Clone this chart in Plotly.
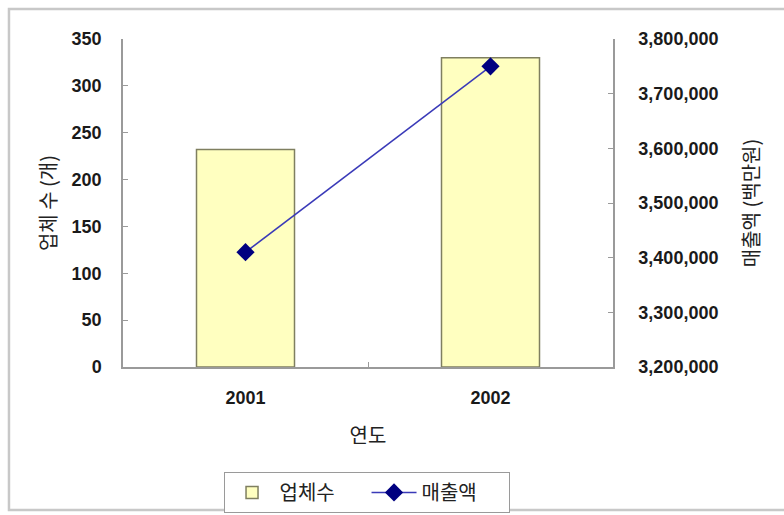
import plotly.graph_objects as go

# 연도별 업체 수와 매출액
years = ["2001", "2002"]
company_counts = [232, 330]            # 업체 수 (개)
sales = [3410000, 3750000]             # 매출액 (백만원)

left_ticks = [0, 50, 100, 150, 200, 250, 300, 350]
right_ticks = [3200000, 3300000, 3400000, 3500000, 3600000, 3700000, 3800000]

axis_grey = "#9a9a9a"
num_font = dict(family="Liberation Sans, Arial, sans-serif", size=18,
                color="#1a1a1a", weight="bold")
kr_font = dict(family="Noto Sans CJK KR, sans-serif", size=20, color="#222222")

fig = go.Figure()

fig.add_trace(go.Bar(
    x=years, y=company_counts, name="업체수",
    marker=dict(color="#FFFFC0", line=dict(color="#7f7f60", width=1.5)),
    width=0.4, yaxis="y",
))

fig.add_trace(go.Scatter(
    x=years, y=sales, name="매출액", mode="lines+markers",
    line=dict(color="#3a3ab8", width=1.5),
    marker=dict(symbol="diamond", size=14, color="#000080"),
    yaxis="y2",
))

fig.update_layout(
    width=784, height=515,
    margin=dict(l=123, r=171, t=39, b=148, autoexpand=False),
    paper_bgcolor="white", plot_bgcolor="white",
    showlegend=True,
    legend=dict(
        orientation="h", x=0.497, xanchor="center", y=-0.32, yanchor="top",
        bordercolor="#9a9a9a", borderwidth=1, font=kr_font,
        itemwidth=45, traceorder="normal", entrywidth=82,
    ),
    xaxis=dict(
        type="category", showline=True, linecolor=axis_grey, linewidth=1.5,
        ticks="inside", tickson="boundaries", ticklen=5, tickcolor=axis_grey,
        tickfont=num_font, ticklabelstandoff=14, automargin=False,
        title=dict(text="연도", font=kr_font, standoff=22),
        showgrid=False, zeroline=False,
    ),
    yaxis=dict(
        range=[0, 350], tickvals=left_ticks, showline=True, linecolor=axis_grey,
        linewidth=1.5, ticks="inside", ticklen=5, tickcolor=axis_grey,
        tickfont=num_font, ticklabelstandoff=16, showgrid=False, zeroline=False,
        automargin=False,
        title=dict(text="업체 수 (개)", font=kr_font, standoff=10),
    ),
    yaxis2=dict(
        range=[3200000, 3800000], tickvals=right_ticks, tickformat=",",
        overlaying="y", side="right", showline=True, linecolor=axis_grey,
        linewidth=1.5, ticks="inside", ticklen=5, tickcolor=axis_grey,
        tickfont=num_font, ticklabelstandoff=20, showgrid=False, zeroline=False,
        automargin=False,
        title=dict(text="매출액 (백만원)", font=kr_font, standoff=28),
    ),
    shapes=[dict(
        type="rect", xref="paper", yref="paper",
        x0=-0.2327, x1=1.37, y0=-0.436, y1=1.0915,
        line=dict(color="#c8c8c8", width=2.5), layer="below",
    )],
)

fig.write_html("out.html")
